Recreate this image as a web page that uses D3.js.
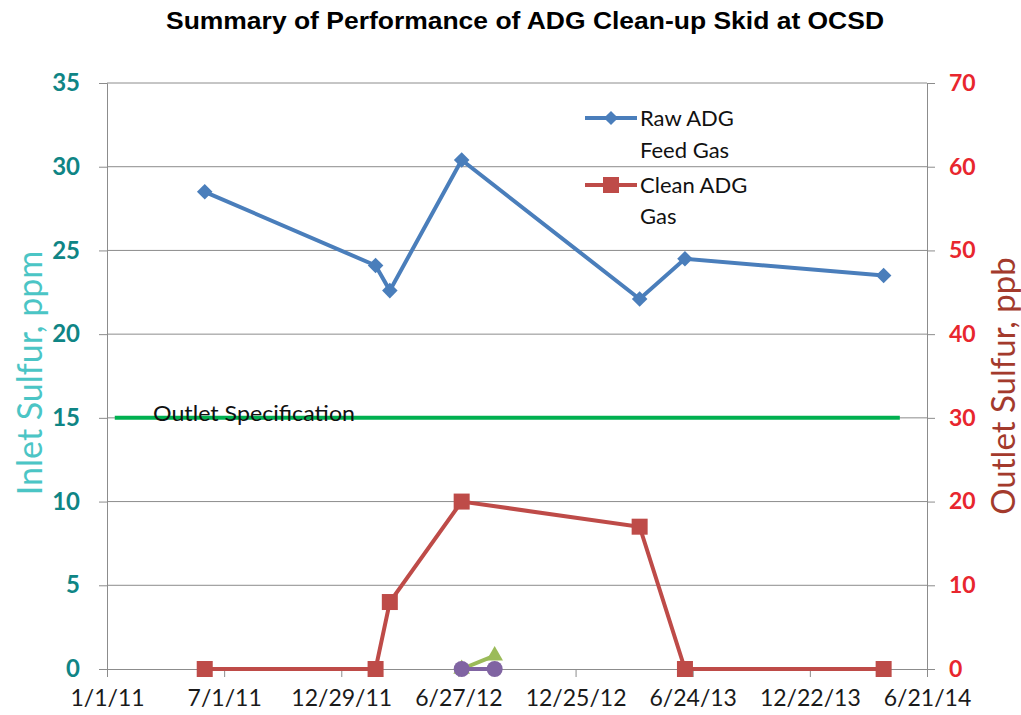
<!DOCTYPE html>
<html>
<head>
<meta charset="utf-8">
<script src="https://cdn.jsdelivr.net/npm/d3@7"></script>
<style>
  body { margin: 0; background: #fff; overflow: hidden; }
  svg { display: block; font-family: Lato, "Open Sans", sans-serif; }
</style>
</head>
<body>
<svg width="1021" height="715"></svg>
<script>
const parse = d3.timeParse('%Y-%m-%d');

// Raw ADG feed gas, inlet sulfur (ppm, left axis)
const rawDates = ['2011-06-01', '2012-02-20', '2012-03-13', '2012-07-02', '2013-04-03', '2013-06-12', '2014-04-15'];
const rawValues = [28.5, 24.1, 22.6, 30.4, 22.1, 24.5, 23.5];

// Clean ADG gas, outlet sulfur (ppb, right axis)
const cleanDates = ['2011-06-01', '2012-02-20', '2012-03-13', '2012-07-02', '2013-04-03', '2013-06-12', '2014-04-15'];
const cleanValues = [0, 0, 8, 20, 17, 0, 0];

// small extra series near zero
const greenDates = ['2012-07-02', '2012-08-22'];
const greenValues = [0, 0.8];
const purpleDates = ['2012-07-02', '2012-08-22'];
const purpleValues = [0, 0];

// outlet specification line (left axis)
const specDates = ['2011-01-13', '2014-05-10'];
const specValues = [15, 15];

const xTickLabels = ['1/1/11', '7/1/11', '12/29/11', '6/27/12', '12/25/12', '6/24/13', '12/22/13', '6/21/14'];
const leftTicks = [0, 5, 10, 15, 20, 25, 30, 35];
const rightTicks = [0, 10, 20, 30, 40, 50, 60, 70];

const svg = d3.select('svg');
const margin = { top: 83, right: 94, bottom: 46, left: 107 };
const width = +svg.attr('width');
const height = +svg.attr('height');
const innerWidth = width - margin.left - margin.right;
const innerHeight = height - margin.top - margin.bottom;

const xScale = d3.scaleTime()
  .domain([parse('2011-01-01'), parse('2014-06-21')])
  .range([0, innerWidth]);
const yLeft = d3.scaleLinear().domain([0, 35]).range([innerHeight, 0]);
const yRight = d3.scaleLinear().domain([0, 70]).range([innerHeight, 0]);

const g = svg.append('g')
  .attr('transform', `translate(${margin.left},${margin.top})`);

// gridlines
g.append('g')
  .selectAll('line').data(leftTicks.slice(1))
  .enter().append('line')
    .attr('x1', 0).attr('x2', innerWidth)
    .attr('y1', d => yLeft(d)).attr('y2', d => yLeft(d))
    .attr('stroke', '#8c8c8c').attr('stroke-width', 1);

// left axis
const leftAxisG = g.append('g')
  .call(d3.axisLeft(yLeft).tickValues(leftTicks).tickSize(8).tickPadding(19));
leftAxisG.selectAll('line, path').attr('stroke', '#8c8c8c');
leftAxisG.selectAll('text')
  .attr('fill', '#0f8585').attr('font-size', 24).attr('font-weight', 'bold')
  .attr('font-family', 'Lato, sans-serif');

// right axis
const rightAxisG = g.append('g')
  .attr('transform', `translate(${innerWidth},0)`)
  .call(d3.axisRight(yRight).tickValues(rightTicks).tickSize(8).tickPadding(14));
rightAxisG.selectAll('line, path').attr('stroke', '#8c8c8c');
rightAxisG.selectAll('text')
  .attr('fill', '#e8262e').attr('font-size', 23).attr('font-weight', 'bold')
  .attr('font-family', 'Lato, sans-serif');

// bottom axis
const xTickDates = d3.range(8).map(i => d3.timeDay.offset(parse('2011-01-01'), i * 181));
const xAxisG = g.append('g')
  .attr('transform', `translate(0,${innerHeight})`)
  .call(d3.axisBottom(xScale).tickValues(xTickDates)
    .tickFormat((d, i) => xTickLabels[i]).tickSize(8).tickPadding(13));
xAxisG.selectAll('line, path').attr('stroke', '#8c8c8c');
xAxisG.selectAll('text')
  .attr('fill', '#1a1a1a').attr('font-size', 23)
  .attr('font-family', 'Lato, sans-serif');

const toPoints = (dates, values) => dates.map((d, i) => ({ date: parse(d), value: values[i] }));

const lineLeft = d3.line().x(d => xScale(d.date)).y(d => yLeft(d.value));
const lineRight = d3.line().x(d => xScale(d.date)).y(d => yRight(d.value));

// spec line
g.append('path')
  .datum(toPoints(specDates, specValues))
  .attr('d', lineLeft)
  .attr('fill', 'none').attr('stroke', '#00b050').attr('stroke-width', 4);

g.append('text')
  .attr('x', 46).attr('y', yLeft(15) + 3)
  .attr('font-size', 22).attr('fill', '#111')
  .attr('textLength', 202).attr('lengthAdjust', 'spacingAndGlyphs')
  .text('Outlet Specification');

// raw ADG
const rawData = toPoints(rawDates, rawValues);
g.append('path').datum(rawData).attr('d', lineLeft)
  .attr('fill', 'none').attr('stroke', '#4a7ebb').attr('stroke-width', 4);
g.selectAll('.diamond').data(rawData)
  .enter().append('rect')
    .attr('class', 'diamond')
    .attr('x', -5.5).attr('y', -5.5).attr('width', 11).attr('height', 11)
    .attr('transform', d => `translate(${xScale(d.date)},${yLeft(d.value)}) rotate(45)`)
    .attr('fill', '#4a7ebb');

// clean ADG
const cleanData = toPoints(cleanDates, cleanValues);
g.append('path').datum(cleanData).attr('d', lineRight)
  .attr('fill', 'none').attr('stroke', '#be4b48').attr('stroke-width', 4);
g.selectAll('.square').data(cleanData)
  .enter().append('rect')
    .attr('class', 'square')
    .attr('x', d => xScale(d.date) - 8).attr('y', d => yRight(d.value) - 8)
    .attr('width', 16).attr('height', 16)
    .attr('fill', '#be4b48');

// green small series
const greenData = toPoints(greenDates, greenValues);
g.append('path').datum(greenData).attr('d', lineLeft)
  .attr('fill', 'none').attr('stroke', '#9bbb59').attr('stroke-width', 4);
g.selectAll('.tri').data(greenData)
  .enter().append('path')
    .attr('class', 'tri')
    .attr('transform', d => `translate(${xScale(d.date)},${yLeft(d.value)})`)
    .attr('d', d3.symbol(d3.symbolTriangle, 120))
    .attr('fill', '#9bbb59');

// purple series
const purpleData = toPoints(purpleDates, purpleValues);
g.append('path').datum(purpleData).attr('d', lineLeft)
  .attr('fill', 'none').attr('stroke', '#8064a2').attr('stroke-width', 4);
g.selectAll('.dot').data(purpleData)
  .enter().append('circle')
    .attr('class', 'dot')
    .attr('cx', d => xScale(d.date)).attr('cy', d => yLeft(d.value))
    .attr('r', 8).attr('fill', '#8064a2');

// legend
const legend = g.append('g').attr('transform', 'translate(478,35)');
legend.append('line').attr('x1', 0).attr('x2', 52).attr('y1', 0).attr('y2', 0)
  .attr('stroke', '#4a7ebb').attr('stroke-width', 4);
legend.append('rect').attr('x', -5).attr('y', -5).attr('width', 10).attr('height', 10)
  .attr('transform', 'translate(26,0) rotate(45)').attr('fill', '#4a7ebb');
legend.append('line').attr('x1', 0).attr('x2', 52).attr('y1', 67).attr('y2', 67)
  .attr('stroke', '#be4b48').attr('stroke-width', 4);
legend.append('rect').attr('x', 18).attr('y', 59).attr('width', 16).attr('height', 16)
  .attr('fill', '#be4b48');
const legendLines = [['Raw ADG', 8], ['Feed Gas', 40], ['Clean ADG', 75], ['Gas', 106]];
legend.selectAll('.ltext').data(legendLines)
  .enter().append('text')
    .attr('class', 'ltext')
    .attr('x', 55).attr('y', d => d[1])
    .attr('font-size', 22).attr('fill', '#111')
    .text(d => d[0]);

// axis titles
svg.append('text')
  .attr('transform', 'translate(42,373) rotate(-90)')
  .attr('text-anchor', 'middle')
  .attr('font-size', 34).attr('fill', '#4bc5c5')
  .text('Inlet Sulfur, ppm');

svg.append('text')
  .attr('transform', 'translate(1015,386) rotate(-90)')
  .attr('text-anchor', 'middle')
  .attr('font-size', 33).attr('fill', '#a33a2c')
  .text('Outlet Sulfur, ppb');

// title
svg.append('text')
  .attr('x', 525).attr('y', 29)
  .attr('text-anchor', 'middle')
  .attr('font-family', '"Liberation Sans", Arial, sans-serif')
  .attr('font-size', 23).attr('font-weight', 'bold').attr('fill', '#000')
  .attr('textLength', 718).attr('lengthAdjust', 'spacingAndGlyphs')
  .text('Summary of Performance of ADG Clean-up Skid at OCSD');
</script>
</body>
</html>
